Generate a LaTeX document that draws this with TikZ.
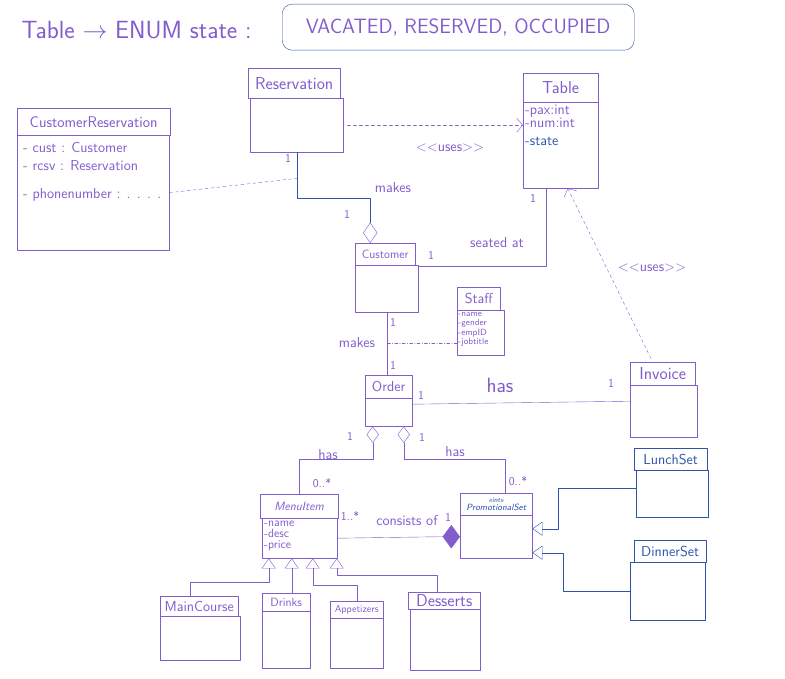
\documentclass[tikz,border=0pt]{standalone}
\usetikzlibrary{arrows.meta,shapes.geometric,positioning}
\definecolor{pen}{RGB}{128,92,204}
\definecolor{ink}{RGB}{44,82,170}
\tikzset{
	head/.style={draw, rectangle, anchor=north west, inner sep=1pt, font=\sffamily\Large},
	body/.style={draw, rectangle, anchor=north west, inner sep=0pt},
	attr/.style={anchor=north west, align=left, inner sep=1pt, font=\sffamily\large},
	lbl/.style={font=\sffamily\Large},
	mult/.style={font=\sffamily\large},
	gen/.style={-{Triangle[open,width=14pt,length=10pt]}},
	uses/.style={dashed, -{Straight Barb[length=6pt,width=14pt]}},
	agg/.style={draw, diamond, minimum width=12pt, minimum height=16pt, inner sep=0pt, fill=white},
}
\begin{document}
\begin{tikzpicture}[x=1pt, y=-1pt, color=pen, line join=round, line cap=round]
	\useasboundingbox (0,0) rectangle (785,679);
	%%%%%%%%%%%%%%%%%%%%%%%%%%%%%%%%%
	\node[lbl, font=\sffamily\Huge, anchor=west] (enumT) at (18,30) {Table $\rightarrow$ ENUM state :};
	\node[draw=ink, rounded corners=10pt, anchor=north west, minimum width=352pt, minimum height=46pt, font=\sffamily\huge] (enumV) at (282,4) {VACATED, RESERVED, OCCUPIED};
	%%%%%%%%%%%%%%%%%%%%%%%%%%%%%%%%%
	\node[head, font=\sffamily\fontsize{15.5}{18}\selectfont, minimum width=153pt, minimum height=27pt] (crH) at (17,108) {CustomerReservation};
	\node[body, minimum width=152pt, minimum height=115pt] (crB) at (17,135) {};
	\node[attr, font=\sffamily\Large] (crA) at (22,141) {- cust : Customer\\[0pt]- rcsv : Reservation\\[10pt]- phonenumber : . . . .};
	\node[head, font=\sffamily\LARGE, minimum width=92pt, minimum height=30pt] (resH) at (248,68) {Reservation};
	\node[body, minimum width=93pt, minimum height=54pt] (resB) at (250,98) {};
	\node[head, font=\sffamily\LARGE, minimum width=75pt, minimum height=29pt] (tabH) at (523,73) {Table};
	\node[body, minimum width=75pt, minimum height=86pt] (tabB) at (523,102) {};
	\node[attr, font=\sffamily\Large] (tabA) at (524,104) {-pax:int\\[-5pt]-num:int\\[0pt]\textcolor{ink}{-state}};
	\node[head, font=\sffamily\large, minimum width=60pt, minimum height=22pt] (cusH) at (355,243) {Customer};
	\node[body, minimum width=63pt, minimum height=47pt] (cusB) at (355,265) {};
	\node[head, minimum width=43pt, minimum height=23pt] (stfH) at (457,287) {Staff};
	\node[body, minimum width=47pt, minimum height=45pt] (stfB) at (457,310) {};
	\node[attr, font=\sffamily\small] (stfA) at (457,311) {-name\\[-1.5pt]-gender\\[-1.5pt]-empID\\[-1.5pt]-jobtitle};
	\node[head, minimum width=47pt, minimum height=23pt] (ordH) at (365,375) {Order};
	\node[body, minimum width=47pt, minimum height=28pt] (ordB) at (365,398) {};
	\node[head, font=\sffamily\LARGE, minimum width=65pt, minimum height=23pt] (invH) at (630,362) {Invoice};
	\node[body, minimum width=67pt, minimum height=52pt] (invB) at (630,385) {};
	\begin{scope}[color=ink]
		\node[head, minimum width=73pt, minimum height=22pt] (lunH) at (634,448) {LunchSet};
		\node[body, minimum width=72pt, minimum height=47pt] (lunB) at (636,470) {};
		\node[head, minimum width=72pt, minimum height=22pt] (dinH) at (634,540) {DinnerSet};
		\node[body, minimum width=75pt, minimum height=58pt] (dinB) at (630,562) {};
	\end{scope}
	\node[head, font=\sffamily\large\itshape, minimum width=78pt, minimum height=24pt] (menH) at (260,494) {MenuItem};
	\node[body, minimum width=75pt, minimum height=40pt] (menB) at (262,518) {};
	\node[attr] (menA) at (263,520) {-name\\[-3pt]-desc\\[-3pt]-price};
	\node[head, text=ink, align=center, inner sep=0pt, font=\sffamily\small\itshape, minimum width=72pt, minimum height=22pt] (proH) at (460,493) {{\scriptsize <<int>>}\\[-3pt]PromotionalSet};
	\node[body, minimum width=72pt, minimum height=43pt] (proB) at (460,515) {};
	\node[head, minimum width=78pt, minimum height=20pt] (mcH) at (160,596) {MainCourse};
	\node[body, minimum width=80pt, minimum height=44pt] (mcB) at (160,616) {};
	\node[head, font=\sffamily\large, minimum width=48pt, minimum height=18pt] (drH) at (262,593) {Drinks};
	\node[body, minimum width=48pt, minimum height=57pt] (drB) at (262,611) {};
	\node[head, font=\sffamily\normalsize, minimum width=53pt, minimum height=17pt] (apH) at (330,601) {Appetizers};
	\node[body, minimum width=53pt, minimum height=50pt] (apB) at (330,618) {};
	\node[head, font=\sffamily\LARGE, minimum width=72pt, minimum height=17pt] (dsH) at (408,592) {Desserts};
	\node[body, minimum width=70pt, minimum height=61pt] (dsB) at (410,609) {};
	%%%%%%%%%%%%%%%%%%%%%%%%%%%%%%%%%
	\node[agg, anchor=south, minimum width=14pt, minimum height=20pt] (mkDia) at ([xshift=-15pt]cusH.north) {};
	\node[agg, anchor=north] (hasDiaA) at ([xshift=-16pt]ordB.south) {};
	\node[agg, anchor=north] (hasDiaB) at ([xshift=15pt]ordB.south) {};
	\node[agg, anchor=east, fill=pen, minimum width=17pt, minimum height=23pt] (conDia) at (proB.west) {};
	\coordinate (mkMid) at ([yshift=-26pt]resB.south);
	\coordinate (stfMid) at ([yshift=-31pt]cusB.south);
	\coordinate (t1) at ([xshift=-31pt]menB.south);
	\coordinate (t2) at ([xshift=-8pt]menB.south);
	\coordinate (t3) at ([xshift=13pt]menB.south);
	\coordinate (t4) at ([xshift=37pt]menB.south);
	%%%%%%%%%%%%%%%%%%%%%%%%%%%%%%%%%
	\draw[uses, shorten <=4pt] (resB.east) -- (resB.east -| tabB.west);
	\draw[ink] (resB.south) -- ++(0,46) -| (mkDia.north);
	\draw[dashed] (crB.east) -- (mkMid);
	\draw ([yshift=-1pt]cusB.north east) -| ([xshift=-15pt]tabB.south);
	\draw (cusB.south) -- (cusB.south |- ordH.north);
	\draw[dashdotted, thin] (stfB.west |- stfMid) -- (stfMid);
	\draw ([yshift=8pt]ordB.east) -- ([yshift=10pt]invB.west);
	\draw[uses, shorten <=4pt] ([xshift=-10pt]invH.north) -- ([xshift=7pt]tabB.south);
	\draw (hasDiaA.south) -- ++(0,16) -| (menH.north);
	\draw (hasDiaB.south) -- ++(0,16) -| ([xshift=9pt]proH.north);
	\draw (menB.east) -- (conDia.west);
	\begin{scope}[color=ink, gen]
		\draw ([yshift=6pt]lunB.west) -- ++(-78,0) |- ([yshift=8pt]proB.east);
		\draw (dinB.west) -- ++(-67,0) |- ([yshift=-16pt]proB.east);
	\end{scope}
	\begin{scope}[gen]
		\draw ([xshift=-9pt]mcH.north) -- ++(0,-14) -| (t1);
		\draw (drH.north -| t2) -- (t2);
		\draw (apH.north) -- ++(0,-16) -| (t3);
		\draw ([xshift=-7pt]dsH.north) -- ++(0,-17) -| (t4);
	\end{scope}
	%%%%%%%%%%%%%%%%%%%%%%%%%%%%%%%%%
	\node[lbl] (usesA) at (450,148) {<{}<uses>{}>};
	\node[lbl] (usesB) at (652,268) {<{}<uses>{}>};
	\node[lbl] (mkA) at (393,188) {makes};
	\node[mult] (mkA1) at (288,158) {1};
	\node[mult] (mkA2) at (347,214) {1};
	\node[lbl] (seat) at (497,243) {seated at};
	\node[mult] (seat1) at (431,255) {1};
	\node[mult] (seat2) at (533,198) {1};
	\node[lbl] (mkB) at (357,343) {makes};
	\node[mult] (mkB1) at (393,322) {1};
	\node[mult] (mkB2) at (393,365) {1};
	\node[lbl, font=\sffamily\huge] (hasI) at (500,385) {has};
	\node[mult] (hasI1) at (421,395) {1};
	\node[mult] (hasI2) at (611,383) {1};
	\node[lbl] (hasM) at (328,455) {has};
	\node[mult] (hasM1) at (350,436) {1};
	\node[mult] (hasM2) at (322,483) {0..*};
	\node[lbl] (hasP) at (455,452) {has};
	\node[mult] (hasP1) at (422,437) {1};
	\node[mult] (hasP2) at (518,481) {0..*};
	\node[lbl] (cons) at (407,521) {consists of};
	\node[mult] (cons1) at (350,516) {1..*};
	\node[mult] (cons2) at (448,517) {1};
	%%%%%%%%%%%%%%%%%%%%%%%%%%%%%%%%%
\end{tikzpicture}
\end{document}
